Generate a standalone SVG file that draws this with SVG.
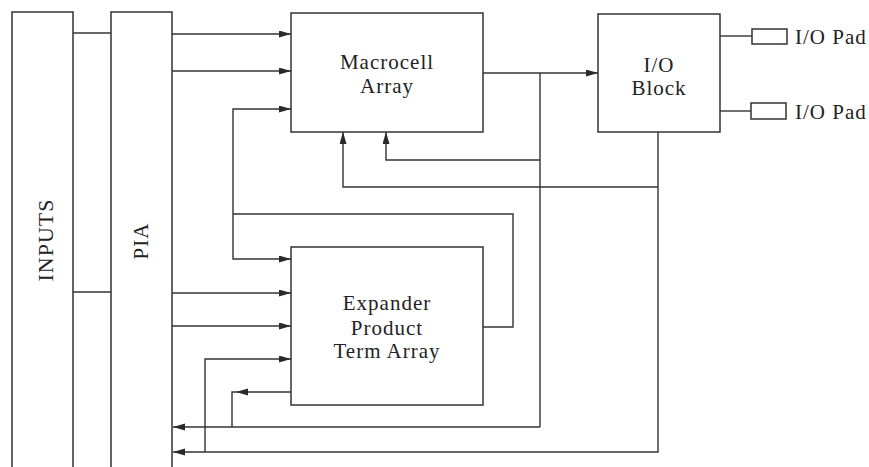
<svg xmlns="http://www.w3.org/2000/svg" width="869" height="467" viewBox="0 0 869 467">
<defs>
<marker id="ah" markerUnits="userSpaceOnUse" markerWidth="12" markerHeight="8" refX="12" refY="3.5" orient="auto">
<path d="M0,0 L12,3.5 L0,7 z" fill="#2a2a2a"/>
</marker>
<style>
.box{fill:#fff;stroke:#333;stroke-width:1.5}
.bar{fill:none;stroke:#333;stroke-width:1.5}
.c{fill:none;stroke:#333;stroke-width:1.4}
.a{marker-end:url(#ah)}
text{font-family:"Liberation Serif","Times New Roman",serif;font-size:21px;fill:#222;letter-spacing:1px}
.m{text-anchor:middle}
</style>
</defs>
<rect width="869" height="467" fill="#fff"/>
<g id="connectors">
<path class="c" d="M73,33 H111"/>
<path class="c" d="M73,292 H111"/>
<path class="c a" d="M172,34 H291"/>
<path class="c a" d="M172,71 H291"/>
<path class="c a" d="M233,214 V109 H291"/>
<path class="c a" d="M233,214 V259 H291"/>
<path class="c" d="M483,327 H513 V214 H233"/>
<path class="c a" d="M172,293 H291"/>
<path class="c a" d="M172,326 H291"/>
<path class="c a" d="M205,452 V359 H291"/>
<path class="c a" d="M291,392 H236"/>
<path class="c" d="M236,392 H232 V427"/>
<path class="c a" d="M540,427 H173"/>
<path class="c a" d="M658,132 V452 H173"/>
<path class="c a" d="M483,73 H598"/>
<path class="c" d="M540,73 V427"/>
<path class="c a" d="M540,160 H386 V132"/>
<path class="c a" d="M658,187 H343 V132"/>
<path class="c" d="M720,36 H752"/>
<path class="c" d="M720,111 H751"/>
</g>
<g id="inputs">
<path class="bar" d="M12,467 V12 H73 V467"/>
<text class="m" transform="translate(53,240) rotate(-90)" style="font-size:22px">INPUTS</text>
</g>
<g id="pia">
<path class="bar" d="M111,467 V12 H172 V467"/>
<text class="m" transform="translate(148,241) rotate(-90)">PIA</text>
</g>
<g id="macrocell">
<rect class="box" x="291" y="13" width="192" height="119"/>
<text class="m" x="387" y="69">Macrocell</text>
<text class="m" x="387" y="93">Array</text>
</g>
<g id="ioblock">
<rect class="box" x="598" y="14" width="122" height="118"/>
<text class="m" x="659" y="72">I/O</text>
<text class="m" x="659" y="95">Block</text>
</g>
<g id="expander">
<rect class="box" x="291" y="247" width="192" height="158"/>
<text class="m" x="387" y="310">Expander</text>
<text class="m" x="387" y="335">Product</text>
<text class="m" x="387" y="358">Term Array</text>
</g>
<g id="pad1">
<rect class="box" x="752" y="29" width="35" height="15"/>
<text x="795" y="44">I/O Pad</text>
</g>
<g id="pad2">
<rect class="box" x="751" y="103" width="35" height="16"/>
<text x="795" y="119">I/O Pad</text>
</g>
</svg>
